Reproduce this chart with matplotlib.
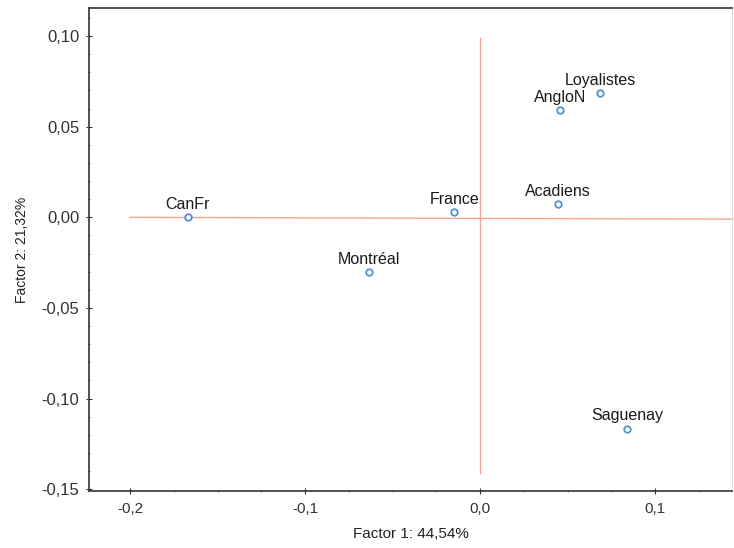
import matplotlib
matplotlib.use("Agg")
from matplotlib import pyplot as plt
from matplotlib.ticker import MultipleLocator, FuncFormatter

# factor scores
names = ["CanFr", "Montréal", "France", "Acadiens", "AngloN", "Loyalistes", "Saguenay"]
factor1 = [-0.167, -0.0634, -0.0149, 0.0446, 0.0457, 0.0686, 0.084]
factor2 = [0.000, -0.0304, 0.0028, 0.0072, 0.0591, 0.0685, -0.1166]

plt.rcParams["font.family"] = ["Liberation Sans", "DejaVu Sans"]


def comma(v, pos, digits):
    return f"{v:.{digits}f}".replace(".", ",")


def main():
    fig = plt.figure(figsize=(7.34, 5.48), dpi=100)
    ax = fig.add_axes([0.1213, 0.104, 0.8765, 0.8814])

    # reference axes through the origin
    ax.plot([-0.2, 0.147], [0, -0.001], color="#f2a890", lw=1.0, zorder=1)
    ax.plot([0, 0], [0.099, -0.141], color="#f2a890", lw=1.0, zorder=1)

    ax.scatter(factor1, factor2, s=22, facecolors="white", edgecolors="#4f93cf",
               linewidths=1.3, zorder=3)
    for x, y, name in zip(factor1, factor2, names):
        ax.annotate(name, (x, y), xytext=(0, 4), textcoords="offset points",
                    ha="center", va="bottom", fontsize=11.5, color="#1a1a1a")

    ax.set_xlim(-0.2234, 0.144)
    ax.set_ylim(-0.151, 0.1155)
    ax.xaxis.set_major_locator(MultipleLocator(0.1))
    ax.xaxis.set_minor_locator(MultipleLocator(0.025))
    ax.yaxis.set_major_locator(MultipleLocator(0.05))
    ax.yaxis.set_minor_locator(MultipleLocator(0.01))
    ax.xaxis.set_major_formatter(FuncFormatter(lambda v, p: comma(v, p, 1)))
    ax.yaxis.set_major_formatter(FuncFormatter(lambda v, p: comma(v, p, 2)))
    ax.tick_params(which="major", direction="inout", length=4, width=0.8,
                   colors="#333333", pad=6)
    ax.tick_params(which="minor", direction="inout", length=2, width=0.6,
                   colors="#666666")
    ax.tick_params(axis="x", which="major", labelsize=11)
    ax.tick_params(axis="y", which="major", labelsize=12, pad=5)

    for side in ["left", "bottom", "top"]:
        ax.spines[side].set_color("#333333")
        ax.spines[side].set_linewidth(1.2)
    ax.spines["right"].set_color("#dddddd")
    ax.spines["right"].set_linewidth(0.8)

    ax.set_xlabel("Factor 1: 44,54%", fontsize=11, color="#222222", labelpad=8)
    ax.set_ylabel("Factor 2: 21,32%", fontsize=10, color="#222222", labelpad=9)

    fig.savefig("out.png", dpi=100)


if __name__ == "__main__":
    main()
